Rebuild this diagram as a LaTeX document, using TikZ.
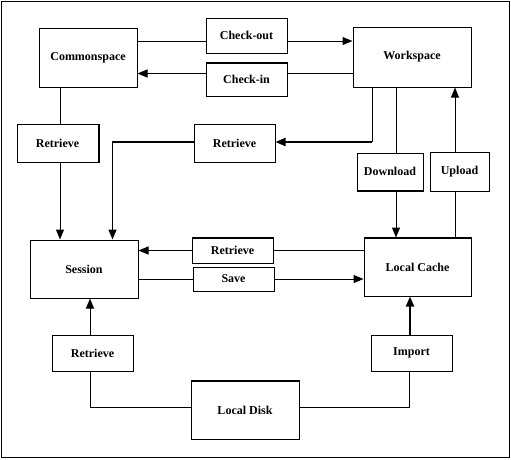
\documentclass[tikz,border=0pt]{standalone}
\usepackage{fontspec}
\setmainfont{Liberation Serif}
\usetikzlibrary{arrows.meta}
\begin{document}
\begin{tikzpicture}[x=1pt,y=-1pt,
  box/.style={draw,line width=1pt,rectangle,inner sep=0pt,font=\fontsize{12}{14}\selectfont\bfseries},
  ln/.style={line width=1pt},
  arr/.style={line width=1pt,-{Triangle[length=10pt,width=8pt]}},
  thk/.style={line width=2pt},
  mid/.style={line width=1.4pt},
  edge/.style={line width=2pt}]
\useasboundingbox (0,0) rectangle (511,459);
\draw[line width=1pt] (1,1) rectangle (509.5,457.5);
\node[box,minimum width=98pt,minimum height=59pt] (cs) at (88,57.5) {Commonspace};
\node[box,minimum width=81pt,minimum height=35pt] (co) at (246.5,35.5) {Check-out};
\node[box,minimum width=81pt,minimum height=33pt] (ci) at (246.5,79.5) {Check-in};
\node[box,minimum width=118pt,minimum height=60pt] (ws) at (412,57) {Workspace};
\node[box,minimum width=81pt,minimum height=38pt] (r1) at (57.5,143) {Retrieve};
\node[box,minimum width=81pt,minimum height=38pt] (r2) at (234.5,143) {Retrieve};
\node[box,minimum width=66pt,minimum height=37pt] (dl) at (390,171.5) {Download};
\node[box,minimum width=59pt,minimum height=39pt] (ul) at (459.5,171.5) {Upload};
\node[box,minimum width=108pt,minimum height=58pt] (se) at (84,269) {Session};
\node[box,minimum width=81pt,minimum height=25pt] (r3) at (232.5,250.5) {Retrieve};
\node[box,minimum width=81pt,minimum height=24pt] (sv) at (233.5,279) {Save};
\node[box,minimum width=81pt,minimum height=36pt] (r4) at (92.5,353) {Retrieve};
\node[box,minimum width=108pt,minimum height=58pt] (ld) at (245,410) {Local Disk};
\node[box,minimum width=107pt,minimum height=58pt] (lc) at (417.5,267) {Local Cache};
\node[box,minimum width=81pt,minimum height=36pt] (im) at (411.5,353) {Import};
% thicker edges
\draw[edge] (ci.north west) -- (ci.north east);
\draw[edge] (r3.north west) -- (r3.north east);
\draw[edge] (lc.north west) -- (lc.north east);
\draw[edge] (ld.north west) -- (ld.north east);
\draw[edge] (r1.north east) -- (r1.south east);
\draw[edge] (dl.south west) -- (dl.south east);
% connectors
\draw[ln] (cs.east |- 0,41) -- (co.west |- 0,41);
\draw[arr] (co.east |- 0,41) -- (ws.west |- 0,41);
\draw[ln] (ws.west |- 0,73.5) -- (ci.east |- 0,73.5);
\draw[arr] (ci.west |- 0,73.5) -- (cs.east |- 0,73.5);
\draw[ln] (cs.south -| 60,0) -- (r1.north -| 60,0);
\draw[arr] (r1.south -| 60,0) -- (se.north -| 60,0);
\coordinate (wc) at (372,142);
\draw[ln] (ws.south -| wc) -- (wc);
\draw[arr,thk] (wc) -- (r2.east |- wc);
\draw[arr,mid] (r2.west |- wc) -| (se.north -| 112.5,0);
\draw[ln] (ws.south -| 396,0) -- (dl.north -| 396,0);
\draw[arr] (dl.south -| 396,0) -- (lc.north -| 396,0);
\draw[ln] (lc.north -| 455,0) -- (ul.south -| 455,0);
\draw[arr] (ul.north -| 455,0) -- (ws.south -| 455,0);
\draw[ln] (lc.west |- r3.east) -- (r3.east);
\draw[arr] (r3.west) -- (se.east |- r3.west);
\draw[ln] (se.east |- sv.west) -- (sv.west);
\draw[arr] (sv.east) -- (lc.west |- sv.east);
\draw[ln] (ld.west |- 0,407) -| (r4.south -| 90,0);
\draw[arr] (r4.north -| 90,0) -- (se.south -| 90,0);
\draw[ln] (ld.east |- 0,407) -| (im.south -| 409,0);
\draw[arr,thk] (im.north -| 410,0) -- (lc.south -| 410,0);
\end{tikzpicture}
\end{document}
